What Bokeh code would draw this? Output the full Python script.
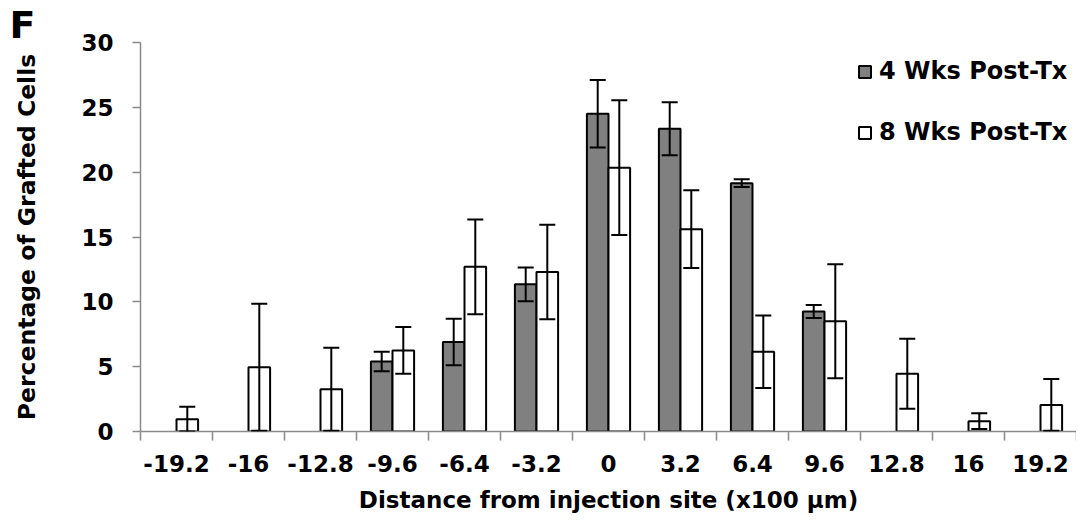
import numpy as np
from bokeh.plotting import figure
from bokeh.models import (Range1d, FixedTicker, ColumnDataSource, Whisker, TeeHead,
                          Legend, LegendItem, Title)
from bokeh.embed import file_html
from bokeh.resources import INLINE

# ---------------- data ----------------
categories = ["-19.2", "-16", "-12.8", "-9.6", "-6.4", "-3.2", "0",
              "3.2", "6.4", "9.6", "12.8", "16", "19.2"]
wk4 = [None, None, None, 5.4, 6.9, 11.35, 24.5, 23.35, 19.15, 9.25, None, None, None]
wk4_err = [None, None, None, 0.75, 1.8, 1.3, 2.6, 2.05, 0.3, 0.5, None, None, None]
wk8 = [0.95, 4.95, 3.25, 6.25, 12.7, 12.3, 20.35, 15.6, 6.15, 8.5, 4.45, 0.8, 2.05]
wk8_err = [0.95, 4.9, 3.2, 1.8, 3.65, 3.65, 5.2, 3.0, 2.8, 4.4, 2.7, 0.6, 2.0]
y_ticks = [0, 5, 10, 15, 20, 25, 30]
series_names = ["4 Wks Post-Tx", "8 Wks Post-Tx"]
panel_letter = "F"

FONT = "DejaVu Sans"
AXIS_GRAY = "#8a8a8a"
BAR_W = 0.3
FRAME_W, FRAME_H = 936, 389
N = len(categories)

idx = np.arange(N)
centers = idx + 0.5

i4 = [i for i, v in enumerate(wk4) if v is not None]
src4 = ColumnDataSource(dict(
    x=[centers[i] - BAR_W / 2 for i in i4],
    top=[wk4[i] for i in i4],
    lower=[wk4[i] - wk4_err[i] for i in i4],
    upper=[wk4[i] + wk4_err[i] for i in i4],
))
src8 = ColumnDataSource(dict(
    x=list(centers + BAR_W / 2),
    top=wk8,
    lower=[v - e for v, e in zip(wk8, wk8_err)],
    upper=[v + e for v, e in zip(wk8, wk8_err)],
))

p = figure(frame_width=FRAME_W, frame_height=FRAME_H,
           x_range=Range1d(0, N), y_range=Range1d(0, 30),
           output_backend="svg", toolbar_location=None,
           min_border_left=140, min_border_top=42, min_border_right=0, min_border_bottom=0)
p.outline_line_color = None
p.xgrid.visible = False
p.ygrid.visible = False
p.background_fill_color = "white"

# panel letter as a left-aligned title shifted to the page's upper-left corner
p.title = Title(text=panel_letter, align="left", offset=-131, standoff=-8,
                text_font=FONT, text_font_style="bold", text_font_size="38px",
                text_color="black")

r4 = p.vbar(x="x", top="top", bottom=0, width=BAR_W, source=src4,
            fill_color="#808080", line_color="black", line_width=2)
r8 = p.vbar(x="x", top="top", bottom=0, width=BAR_W, source=src8,
            fill_color="white", line_color="black", line_width=2)

for src in (src4, src8):
    w = Whisker(base="x", lower="lower", upper="upper", source=src, dimension="height",
                line_color="black", line_width=2, level="overlay",
                upper_head=TeeHead(size=16, line_color="black", line_width=2),
                lower_head=TeeHead(size=16, line_color="black", line_width=2))
    p.add_layout(w)

# x axis
xa = p.xaxis[0]
xa.ticker = FixedTicker(ticks=list(centers), minor_ticks=list(range(N + 1)))
xa.major_label_overrides = {float(c): lab for c, lab in zip(centers, categories)}
xa.major_tick_out = 0
xa.major_tick_in = 0
xa.minor_tick_out = 9
xa.minor_tick_in = 0
xa.minor_tick_line_color = AXIS_GRAY
xa.minor_tick_line_width = 1.5
xa.axis_line_color = AXIS_GRAY
xa.axis_line_width = 1.5
xa.major_label_text_font = FONT
xa.major_label_text_font_style = "bold"
xa.major_label_text_font_size = "23px"
xa.major_label_text_color = "black"
xa.major_label_standoff = 14
xa.axis_label = "Distance from injection site (x100 µm)"
xa.axis_label_text_font = FONT
xa.axis_label_text_font_style = "bold"
xa.axis_label_text_font_size = "23px"
xa.axis_label_text_color = "black"
xa.axis_label_standoff = 12

# y axis
ya = p.yaxis[0]
ya.ticker = FixedTicker(ticks=y_ticks, minor_ticks=[])
ya.major_tick_out = 8
ya.major_tick_in = 0
ya.minor_tick_out = 0
ya.minor_tick_in = 0
ya.major_tick_line_color = AXIS_GRAY
ya.major_tick_line_width = 1.5
ya.axis_line_color = AXIS_GRAY
ya.axis_line_width = 1.5
ya.major_label_text_font = FONT
ya.major_label_text_font_style = "bold"
ya.major_label_text_font_size = "23px"
ya.major_label_text_color = "black"
ya.major_label_standoff = 19
ya.axis_label = "Percentage of Grafted Cells"
ya.axis_label_text_font = FONT
ya.axis_label_text_font_style = "bold"
ya.axis_label_text_font_size = "23.5px"
ya.axis_label_text_color = "black"
ya.axis_label_standoff = 37

legend = Legend(items=[LegendItem(label=series_names[0], renderers=[r4]),
                       LegendItem(label=series_names[1], renderers=[r8])],
                location=(717, 285), orientation="vertical",
                glyph_width=15, glyph_height=15, label_standoff=7, spacing=33,
                padding=0, margin=0, border_line_color=None, background_fill_alpha=0,
                label_text_font=FONT, label_text_font_style="bold",
                label_text_font_size="24px", label_text_color="black")
p.add_layout(legend)

open("out.html", "w").write(file_html(p, INLINE))
